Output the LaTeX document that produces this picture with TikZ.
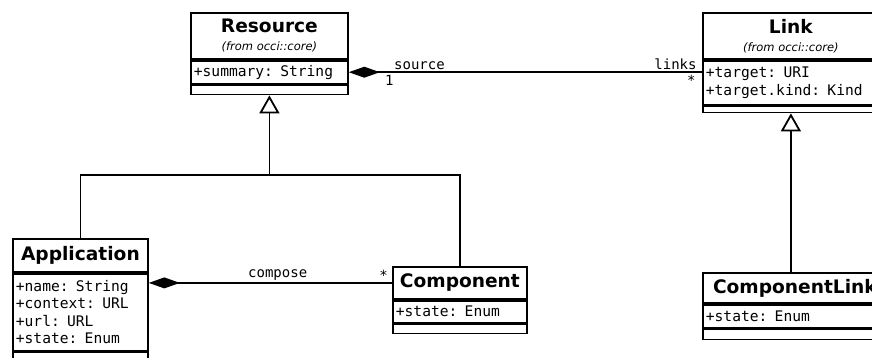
\documentclass[tikz,border=0pt]{standalone}
\usepackage{fontspec}
\setmainfont{DejaVu Sans}
\setmonofont{DejaVu Sans Mono}
\usetikzlibrary{arrows.meta,positioning}

\newcommand{\fromcore}{\\[-2pt]{\fontsize{11.5}{13}\selectfont\mdseries\itshape (from occi::core)}}

\begin{document}
\begin{tikzpicture}[x=1pt,y=-1pt,
    box/.style={draw,line width=1.8pt,inner sep=3pt},
    classname/.style={box,anchor=north west,align=center,
      font=\fontsize{18.6}{20}\selectfont\bfseries},
    attrs/.style={box,anchor=north,align=left,text width=#1,
      font=\fontsize{14.6}{17.5}\selectfont\ttfamily},
    opbox/.style={box,anchor=north},
    conn/.style={line width=1.8pt},
    lbl/.style={font=\fontsize{14}{16}\selectfont\ttfamily,inner sep=2pt},
    comp/.style={{Diamond[length=31pt,width=11pt]}-},
    gen/.style={-{Triangle[open,length=18pt,width=20pt,fill=white]}}]
  \useasboundingbox (0,0) rectangle (872,358);
  \clip (0,0) rectangle (872,358);
  %\draw[very thin,lightgray,step=50] (0,0) grid (872,358);

  % Resource
  \node[classname,minimum width=157,minimum height=46] (res) at (190,12)
    {Resource\fromcore};
  \node[attrs=151,minimum height=23] (res-attr) at (res.south) {+summary: String};
  \node[opbox,minimum width=157,minimum height=9] (res-op) at (res-attr.south) {};

  % Link
  \node[classname,minimum width=176,minimum height=46] (link) at (702,12)
    {Link\fromcore};
  \node[attrs=170,minimum height=44] (link-attr) at (link.south)
    {+target: URI\\+target.kind: Kind};
  \node[opbox,minimum width=176,minimum height=6] (link-op) at (link-attr.south) {};

  % Application
  \node[classname,minimum width=135,minimum height=33] (app) at (12,238)
    {Application};
  \node[attrs=129,minimum height=77] (app-attr) at (app.south)
    {+name: String\\+context: URL\\+url: URL\\+state: Enum};
  \node[opbox,minimum width=135,minimum height=8] (app-op) at (app-attr.south) {};

  % Component
  \node[classname,minimum width=134,minimum height=32] (cmp) at (392,266)
    {Component};
  \node[attrs=128,minimum height=22] (cmp-attr) at (cmp.south) {+state: Enum};
  \node[opbox,minimum width=134,minimum height=9] (cmp-op) at (cmp-attr.south) {};

  % ComponentLink
  \node[classname,minimum width=184,minimum height=30] (clink) at (702,272)
    {ComponentLink};
  \node[attrs=178,minimum height=23] (clink-attr) at (clink.south) {+state: Enum};
  \node[opbox,minimum width=184,minimum height=10] (clink-op) at (clink-attr.south) {};

  % associations
  \draw[conn,comp] (res-attr.east) -- (res-attr.east -| link.west)
    node[lbl,pos=0.2,above] (src) {source}
    node[lbl,pos=0.115,below] (src-m) {1}
    node[lbl,pos=0.925,above] (lnk) {links}
    node[lbl,pos=0.97,below] (lnk-m) {*};
  \draw[conn,comp] (cmp.west -| app-attr.east) -- (cmp.west)
    node[lbl,pos=0.53,above] (cps) {compose}
    node[lbl,pos=0.965,above] (cps-m) {*};

  % generalisations
  \coordinate (join) at (res-op.south |- 0,175);
  \draw[conn,gen] (join) -- (res-op.south);
  \draw[conn] (app.north) |- (join) -| (cmp.north);
  \draw[conn,gen] (link-op.south |- clink.north) -- (link-op.south);
\end{tikzpicture}
\end{document}
